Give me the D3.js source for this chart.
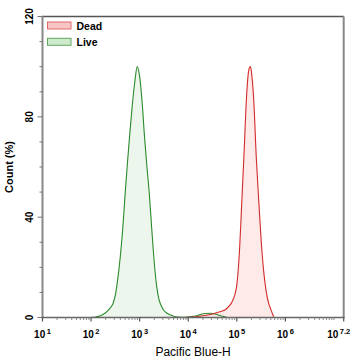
<!DOCTYPE html>
<html><head><meta charset="utf-8">
<script src="https://cdn.jsdelivr.net/npm/d3@7/dist/d3.min.js"></script>
<style>
html,body{margin:0;padding:0;background:#fff;}
svg{display:block;font-family:"Liberation Sans",Arial,sans-serif;}
</style></head>
<body><svg id="c" width="358" height="361"></svg>
<script>
// Data (x as log10 of Pacific Blue-H, y as Count %)
const seriesNames = ["Dead", "Live"];
const deadLog = [1.0, 3.9, 4.0, 4.1, 4.2, 4.3, 4.4, 4.5, 4.6, 4.7, 4.75, 4.8, 4.85, 4.9, 4.95, 5.0, 5.05, 5.1, 5.15, 5.2, 5.25, 5.28, 5.3, 5.35, 5.4, 5.45, 5.5, 5.55, 5.6, 5.65, 5.7, 5.74, 5.77, 5.9, 7.2];
const deadVal = [0, 0, 0.1, 0.2, 0.4, 0.7, 1.0, 1.4, 2.0, 2.6, 3.0, 3.7, 4.7, 6.2, 8.5, 13, 25, 45, 66, 88, 99, 100, 98, 86, 64, 47, 31, 19, 11, 6, 3.2, 1.2, 0, 0, 0];
const liveLog = [1.0, 2.0, 2.05, 2.1, 2.15, 2.2, 2.25, 2.3, 2.35, 2.4, 2.45, 2.5, 2.55, 2.6, 2.65, 2.7, 2.75, 2.8, 2.85, 2.9, 2.95, 3.0, 3.05, 3.1, 3.15, 3.2, 3.25, 3.3, 3.35, 3.4, 3.45, 3.5, 3.55, 3.6, 3.65, 3.7, 3.75, 3.85, 3.95, 4.05, 4.15, 4.25, 4.35, 4.45, 4.55, 4.65, 4.75, 4.85, 7.2];
const liveVal = [0, 0, 0.1, 0.2, 0.45, 0.8, 1.3, 1.9, 2.8, 4.0, 5.5, 9, 15.5, 24, 35, 49, 62, 74, 85, 94, 100, 96, 86, 72, 60, 49, 35, 22, 12.5, 7, 4.5, 2.8, 1.9, 1.3, 0.9, 0.5, 0.3, 0.1, 0.1, 0.3, 0.6, 1.2, 1.6, 1.7, 1.4, 0.8, 0.3, 0, 0];
const yTicks = [0, 40, 80, 120];
const xTickExp = ["1", "2", "3", "4", "5", "6", "7.2"];
const xTitle = "Pacific Blue-H";
const yTitle = "Count (%)";

const svg = d3.select("#c");
const L = 42.5, R = 343.7, T = 16.5, B = 317.5;
const x = d3.scaleLog().domain([10, Math.pow(10, 7.2)]).range([L, R]);
const y = d3.scaleLinear().domain([0, 120]).range([B, T]);

const toPts = (lg, v) => lg.map((e, i) => [Math.pow(10, e), v[i]]);
const series = [
  {name: "Dead", pts: toPts(deadLog, deadVal), fill: "#ffe6e6", stroke: "#d42a2a", swFill: "#f9c4c4", swStroke: "#e06a6a"},
  {name: "Live", pts: toPts(liveLog, liveVal), fill: "#eaf5ea", stroke: "#2a8a2a", swFill: "#cdeacd", swStroke: "#5fa85f"}
];

const area = d3.area().x(d => x(d[0])).y0(B).y1(d => y(d[1])).curve(d3.curveMonotoneX);
const line = d3.line().x(d => x(d[0])).y(d => y(d[1])).curve(d3.curveMonotoneX);

[series[1], series[0]].forEach(s => {
  svg.append("path").attr("d", area(s.pts)).attr("fill", s.fill).attr("fill-opacity", 0.85);
});
[series[1], series[0]].forEach(s => {
  svg.append("path").attr("d", line(s.pts)).attr("fill", "none").attr("stroke", s.stroke).attr("stroke-width", 1.1);
});

// frame
svg.append("line").attr("x1", L).attr("x2", R).attr("y1", T).attr("y2", T).attr("stroke", "#555").attr("stroke-width", 1.5);
svg.append("line").attr("x1", R).attr("x2", R).attr("y1", T).attr("y2", B).attr("stroke", "#888").attr("stroke-width", 2);
svg.append("line").attr("x1", L).attr("x2", L).attr("y1", T - 0.7).attr("y2", B + 1).attr("stroke", "#888").attr("stroke-width", 2);
svg.append("line").attr("x1", L - 1).attr("x2", R + 1).attr("y1", B).attr("y2", B).attr("stroke", "#666").attr("stroke-width", 1.6);

// y ticks
const yMinor = d3.range(0, 121, 10);
svg.selectAll(".ymt").data(yMinor).enter().append("line")
  .attr("x1", d => yTicks.includes(d) ? L - 5 : L - 3).attr("x2", L)
  .attr("y1", d => y(d)).attr("y2", d => y(d)).attr("stroke", "#777").attr("stroke-width", 1);
svg.selectAll(".ytl").data(yTicks).enter().append("text")
  .attr("transform", d => `translate(33,${y(d)}) rotate(-90)`)
  .attr("text-anchor", "middle").attr("font-size", "10px").attr("font-weight", "bold").attr("fill", "#000")
  .text(d => d);

// x ticks
const minor = [];
for (let k = 1; k <= 7; k++) for (let m = 2; m <= 9; m++) { const v = m * Math.pow(10, k); if (v < Math.pow(10, 7.2)) minor.push(v); }
minor.push(1e7);
svg.selectAll(".xmt").data(minor).enter().append("line")
  .attr("x1", d => x(d)).attr("x2", d => x(d)).attr("y1", B).attr("y2", B + 2.5).attr("stroke", "#888").attr("stroke-width", 1);
const majors = xTickExp.map(e => Math.pow(10, +e));
svg.selectAll(".xMt").data(majors).enter().append("line")
  .attr("x1", d => x(d)).attr("x2", d => x(d)).attr("y1", B).attr("y2", B + 4).attr("stroke", "#555").attr("stroke-width", 1.2);
xTickExp.forEach((e, i) => {
  const t = svg.append("text").attr("x", x(majors[i]) - (e.length > 1 ? 5 : 0)).attr("y", 338)
    .attr("text-anchor", "middle").attr("font-weight", "bold").attr("fill", "#000");
  t.append("tspan").attr("font-size", "10px").text("10");
  t.append("tspan").attr("font-size", "7.5px").attr("dx", "1.5").attr("dy", "-4.5").text(e);
});

// titles
svg.append("text").attr("x", (L + R) / 2).attr("y", 356).attr("text-anchor", "middle")
  .attr("font-size", "12px").attr("fill", "#000").text(xTitle);
svg.append("text").attr("transform", `translate(13,${(T + B) / 2}) rotate(-90)`).attr("text-anchor", "middle")
  .attr("font-size", "11px").attr("font-weight", "bold").attr("fill", "#000").text(yTitle);

// legend
series.forEach((s, i) => {
  const yy = 22 + i * 16.3;
  svg.append("rect").attr("x", 47.5).attr("y", yy).attr("width", 23.5).attr("height", 7)
    .attr("fill", s.swFill).attr("stroke", s.swStroke).attr("stroke-width", 1);
  svg.append("text").attr("x", 76.5).attr("y", yy + 7.5).attr("font-size", "10.5px").attr("font-weight", "bold")
    .attr("fill", "#000").text(s.name);
});
</script></body></html>
